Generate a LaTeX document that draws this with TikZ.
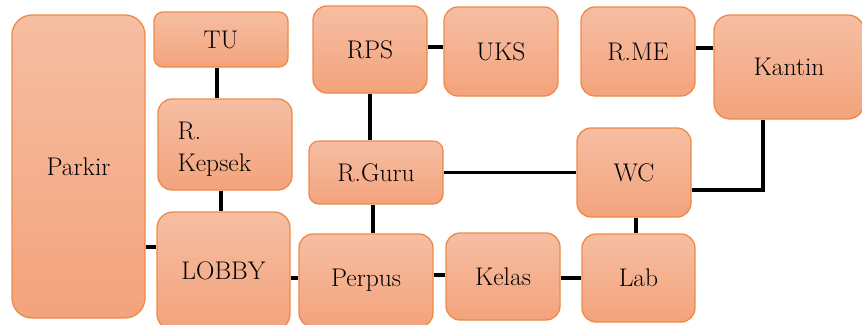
\documentclass[tikz,border=0pt]{standalone}
\usepackage{fontspec}
\definecolor{roomtop}{HTML}{F6BEA3}
\definecolor{roombot}{HTML}{F3A37C}
\definecolor{roomedge}{HTML}{EE8A48}
\tikzset{
  roomtext/.style={font=\fontsize{25.5}{32}\selectfont, text=black},
  room/.style={roomtext, draw=roomedge, line width=1.3pt, top color=roomtop, bottom color=roombot,
    inner sep=0pt},
  link/.style={line width=3.3pt, black}
}
% place a room box from its corner pixels: name, x1, y1, x2, y2, corner radius, text
\newcommand{\roombox}[7]{%
  \node[room, rounded corners=#6, minimum width={#4-#2}, minimum height={#5-#3}]
    (#1) at ({(#2+#4)/2},{(#3+#5)/2}) {#7};}
\begin{document}
\begin{tikzpicture}[x=1pt,y=-1pt]
\useasboundingbox (0,0) rectangle (862,324);
\roombox{parkir}{12}{15}{145}{318}{20pt}{Parkir}
\roombox{tu}{154}{12}{288}{67}{9pt}{TU}
\roombox{kepsek}{158}{99}{292}{190}{14pt}{}
\node[roomtext, align=left, anchor=west] (kepsektext) at (174,149) {R.\\Kepsek};
\roombox{lobby}{157}{212}{290}{330}{16pt}{LOBBY}
\roombox{rps}{313}{6}{427}{93}{14pt}{RPS}
\roombox{uks}{444}{7}{558}{96}{14pt}{UKS}
\roombox{rguru}{309}{141}{443}{204}{10pt}{R.Guru}
\roombox{perpus}{299}{234}{433}{327}{14pt}{Perpus}
\roombox{kelas}{446}{233}{560}{320}{14pt}{Kelas}
\roombox{rme}{581}{7}{695}{96}{14pt}{R.ME}
\roombox{kantin}{714}{15}{864}{119}{16pt}{Kantin}
\roombox{wc}{577}{128}{691}{217}{14pt}{WC}
\roombox{lab}{582}{234}{695}{322}{14pt}{Lab}
% connectors
\draw[link] (tu.south -| 217,0) -- (kepsek.north -| 217,0);
\draw[link] (kepsek.south -| 221,0) -- (lobby.north -| 221,0);
\draw[link] (parkir.east |- 0,247) -- (lobby.west |- 0,247);
\draw[link] (lobby.east |- 0,278) -- (perpus.west |- 0,278);
\draw[link] (rps.east |- 0,47) -- (uks.west |- 0,47);
\draw[link] (rps.south -| 370,0) -- (rguru.north -| 370,0);
\draw[link] (rguru.east |- 0,172.5) -- (wc.west |- 0,172.5);
\draw[link] (rguru.south -| 373,0) -- (perpus.north -| 373,0);
\draw[link] (perpus.east |- 0,275) -- (kelas.west |- 0,275);
\draw[link] (kelas.east |- 0,278) -- (lab.west |- 0,278);
\draw[link] (rme.east |- 0,48) -- (kantin.west |- 0,48);
\draw[link] (wc.south -| 636,0) -- (lab.north -| 636,0);
\draw[link] (wc.east |- 0,190) -| (kantin.south -| 763,0);
\end{tikzpicture}
\end{document}
